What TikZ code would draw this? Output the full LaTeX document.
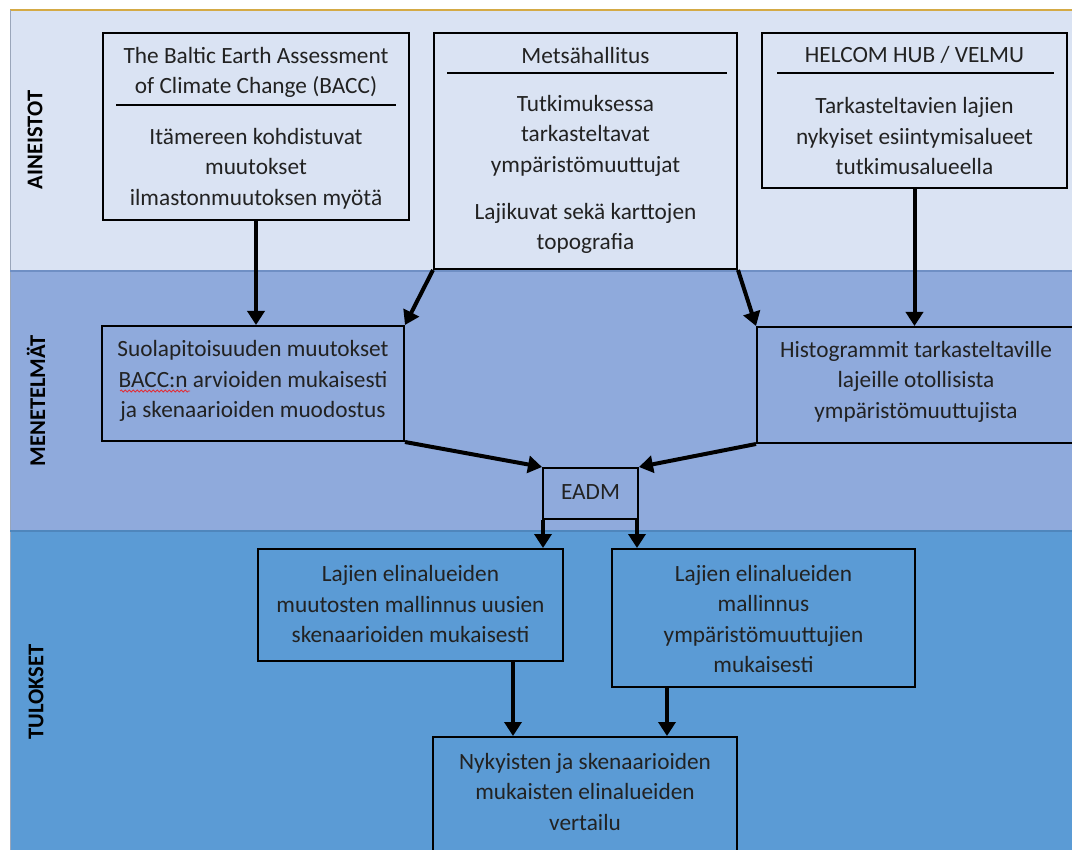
\documentclass[tikz,border=0pt]{standalone}
\usepackage{fontspec}
\setmainfont{Carlito}
\usetikzlibrary{arrows.meta,decorations.pathmorphing}
\definecolor{bandA}{HTML}{DAE3F3}
\definecolor{bandB}{HTML}{8FAADC}
\definecolor{bandC}{HTML}{5B9BD5}
\definecolor{edgeB}{HTML}{6F8FC4}
\definecolor{edgeC}{HTML}{4F86BC}
\definecolor{goldline}{HTML}{D4AA45}
\definecolor{leftline}{HTML}{9AA6BA}
\definecolor{txtc}{HTML}{222222}
\definecolor{spell}{HTML}{E0303A}
\begin{document}
\begin{tikzpicture}[x=1pt,y=-1pt,
  box/.style={draw=black, line width=2pt, inner sep=0pt, rectangle},
  txt/.style={text=txtc, align=center, inner sep=0pt, font=\fontsize{23.3}{30.5}\selectfont},
  lab/.style={text=black, inner sep=0pt, rotate=90, font=\fontsize{22.5}{26}\selectfont\bfseries},
  rule/.style={line width=2pt, draw=black},
  arr/.style={line width=4pt, draw=black, -{Triangle[width=17pt,length=14pt]}}]
\useasboundingbox (0,0) rectangle (1072,850);
\fill[white] (0,0) rectangle (1072,850);
% bands
\fill[bandA] (10,10) rectangle (1072,271);
\fill[bandB] (10,271) rectangle (1072,531);
\fill[bandC] (10,531) rectangle (1072,850);
\draw[goldline, line width=1.5pt] (10,10) -- (1072,10);
\draw[leftline, line width=1pt] (10,10) -- (10,850);
\draw[edgeB, line width=1.2pt] (10,271) -- (1072,271);
\draw[edgeC, line width=1.2pt] (10,531) -- (1072,531);
% band labels
\node[lab] (labA) at (35,140) {AINEISTOT};
\node[lab] (labB) at (36,401) {MENETELMÄT};
\node[lab] (labC) at (36,692) {TULOKSET};
% top boxes
\node[box, minimum width=306, minimum height=187] (bacc) at (256,126.5) {};
\node[txt] (bacct) at (256,72.5) {The Baltic Earth Assessment\\of Climate Change (BACC)};
\draw[rule] (116,105) -- (396,105);
\node[txt] (baccb) at (256,168.5) {Itämereen kohdistuvat\\muutokset\\ilmastonmuutoksen myötä};

\node[box, minimum width=303, minimum height=236] (met) at (585.5,151) {};
\node[txt] (mett) at (585.5,55) {Metsähallitus};
\draw[rule] (447,73) -- (727,73);
\node[txt] (metb1) at (585.5,135.5) {Tutkimuksessa\\tarkasteltavat\\ympäristömuuttujat};
\node[txt] (metb2) at (585.5,228.5) {Lajikuvat sekä karttojen\\topografia};

\node[box, minimum width=305, minimum height=155] (hel) at (914.5,110.5) {};
\node[txt] (helt) at (914.5,55) {HELCOM HUB / VELMU};
\draw[rule] (777,73) -- (1054,73);
\node[txt] (helb) at (914.5,136) {Tarkasteltavien lajien\\nykyiset esiintymisalueet\\tutkimusalueella};
% middle boxes
\node[box, minimum width=302, minimum height=115] (suola) at (253,383.5) {};
\node[txt] (suolat) at (253,381) {Suolapitoisuuden muutokset\\BACC:n arvioiden mukaisesti\\ja skenaarioiden muodostus};
\draw[spell, line width=0.8pt, decorate, decoration={snake, segment length=4pt, amplitude=1pt}] (120,391) -- (190,391);
\node[box, minimum width=318, minimum height=116] (histo) at (916,385) {};
\node[txt] (histot) at (916,381.5) {Histogrammit tarkasteltaville\\lajeille otollisista\\ympäristömuuttujista};
\node[box, minimum width=95, minimum height=51] (eadm) at (590.5,493.5) {};
\node[txt] (eadmt) at (590.5,492) {EADM};
% bottom boxes
\node[box, minimum width=305, minimum height=112] (lft) at (410.5,605) {};
\node[txt] (lftt) at (410.5,604) {Lajien elinalueiden\\muutosten mallinnus uusien\\skenaarioiden mukaisesti};
\node[box, minimum width=303, minimum height=138] (rgt) at (763.5,618) {};
\node[txt] (rgtt) at (763.5,619) {Lajien elinalueiden\\mallinnus\\ympäristömuuttujien\\mukaisesti};
\node[box, minimum width=304, minimum height=140] (cmp) at (585,807) {};
\node[txt] (cmpt) at (585,791.5) {Nykyisten ja skenaarioiden\\mukaisten elinalueiden\\vertailu};
% connectors
\coordinate (lftout) at (513,661);
\coordinate (rgtout) at (667,687);
\draw[arr] (bacc.south) -- (bacc.south |- suola.north);
\draw[arr] (met.south west) -- (suola.north east);
\draw[arr] (met.south east) -- (histo.north west);
\draw[arr] (hel.south) -- (hel.south |- histo.north);
\draw[arr] (suola.south east) -- (eadm.north west);
\draw[arr] (histo.south west) -- (eadm.north east);
\draw[arr] ([xshift=1pt]eadm.south west) -- ([xshift=1pt]eadm.south west |- lft.north);
\draw[arr] ([xshift=-2pt]eadm.south east) -- ([xshift=-2pt]eadm.south east |- rgt.north);
\draw[arr] (lftout) -- (lftout |- cmp.north);
\draw[arr] (rgtout) -- (rgtout |- cmp.north);
\end{tikzpicture}
\end{document}
